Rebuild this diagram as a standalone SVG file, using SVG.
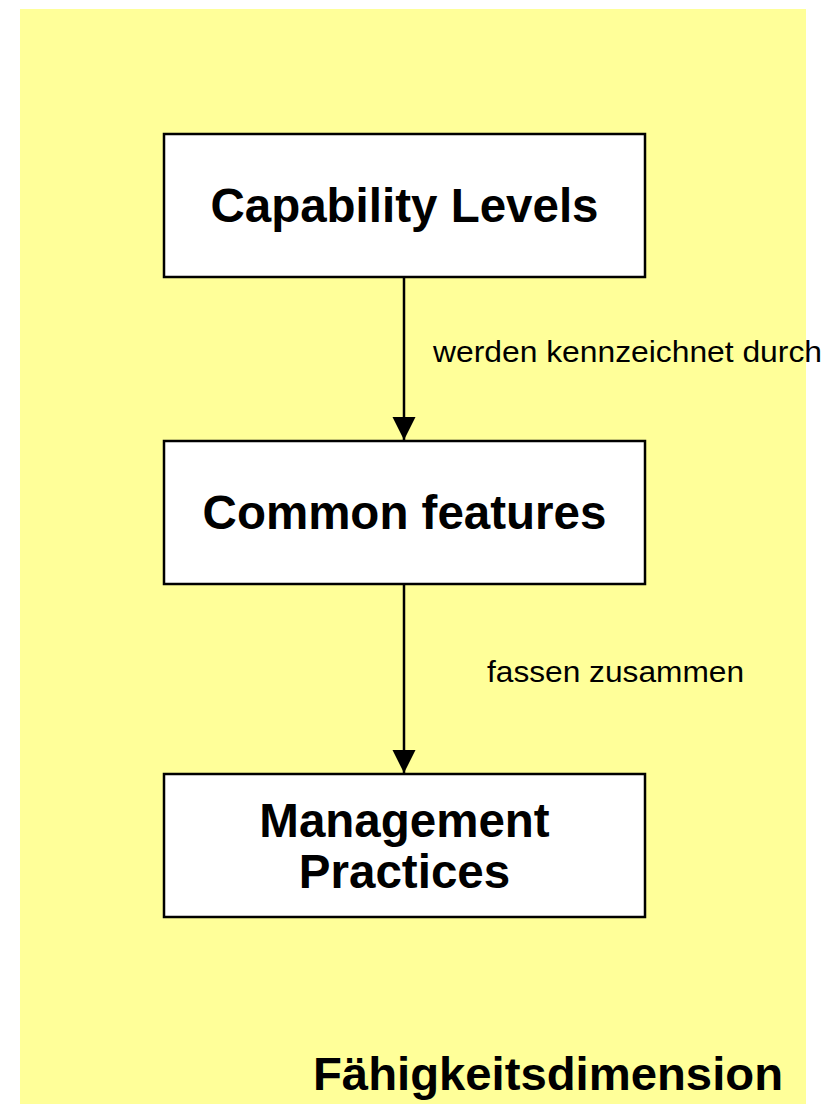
<svg xmlns="http://www.w3.org/2000/svg" width="836" height="1104" viewBox="0 0 836 1104">
<style>
.box{fill:#ffffff;stroke:#000000;stroke-width:2.5}
.title{font-family:"Liberation Sans",Arial,sans-serif;font-weight:bold;font-size:47.5px;fill:#000;text-anchor:middle}
.lbl{font-family:"Liberation Sans",Arial,sans-serif;font-size:30px;fill:#000}
.conn{stroke:#000;stroke-width:2.5;fill:none}
</style>
<defs>
<marker id="arr" markerUnits="userSpaceOnUse" markerWidth="24" markerHeight="24" viewBox="0 0 24 24" refX="23" refY="12" orient="auto">
<path d="M0,0.5 L23,12 L0,23.5 Z" fill="#000"/>
</marker>
</defs>
<rect id="background" x="20" y="9" width="786" height="1095" fill="#ffff99"/>
<g id="node-capability">
<rect class="box" x="164" y="134" width="481" height="143"/>
<text class="title" x="404.5" y="222">Capability Levels</text>
</g>
<g id="node-common">
<rect class="box" x="164" y="441" width="481" height="143"/>
<text class="title" x="404.5" y="529">Common features</text>
</g>
<g id="node-management">
<rect class="box" x="164" y="774" width="481" height="143"/>
<text class="title" x="404.5" y="837">Management</text>
<text class="title" x="404.5" y="888">Practices</text>
</g>
<g id="connectors">
<line class="conn" x1="404" y1="277" x2="404" y2="440" marker-end="url(#arr)"/>
<line class="conn" x1="404" y1="584" x2="404" y2="773" marker-end="url(#arr)"/>
<text class="lbl" x="433" y="362" textLength="389" lengthAdjust="spacingAndGlyphs">werden kennzeichnet durch</text>
<text class="lbl" x="487" y="682" textLength="257" lengthAdjust="spacingAndGlyphs">fassen zusammen</text>
</g>
<g id="dimension-label">
<text x="313" y="1090" font-family="'Liberation Sans',Arial,sans-serif" font-weight="bold" font-size="46" textLength="470" lengthAdjust="spacingAndGlyphs">Fähigkeitsdimension</text>
</g>
</svg>
